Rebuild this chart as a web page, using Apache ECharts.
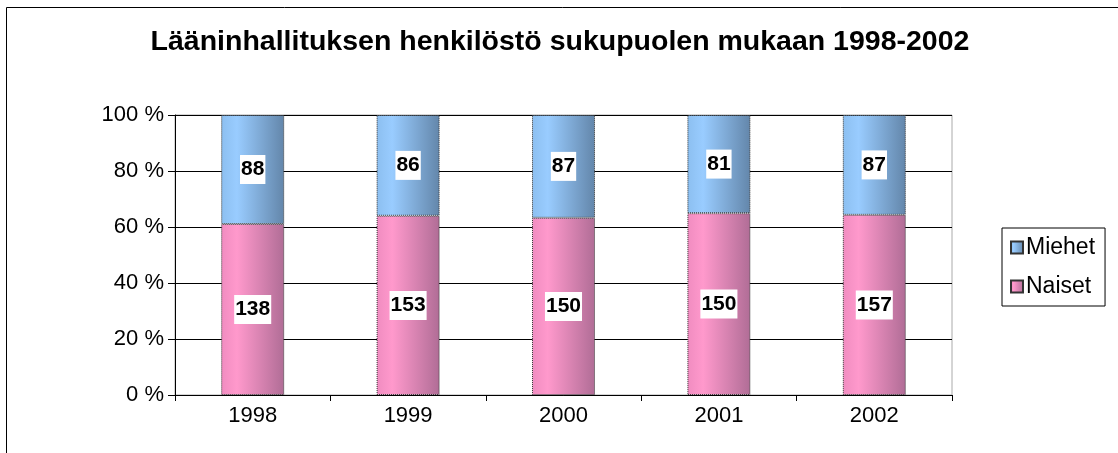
<!DOCTYPE html>
<html>
<head>
<meta charset="utf-8">
<script src="https://cdn.jsdelivr.net/npm/echarts@6/dist/echarts.min.js"></script>
<style>
  body { margin: 0; background: #fff; }
  #main { width: 1118px; height: 453px; }
</style>
</head>
<body>
<div id="main"></div>
<script>
// vuodet ja henkilömäärät
const years = ['1998', '1999', '2000', '2001', '2002'];
const naiset = [138, 153, 150, 150, 157];
const miehet = [88, 86, 87, 81, 87];
const yTicks = [0, 20, 40, 60, 80, 100];

// osuudet prosentteina (100 % pinottu)
const naisetPct = naiset.map((v, i) => v / (v + miehet[i]) * 100);
const miehetPct = miehet.map((v, i) => v / (naiset[i] + v) * 100);

const font = 'Liberation Sans, Arial, sans-serif';

function grad(c1, c2, c3) {
  return new echarts.graphic.LinearGradient(0, 0, 1, 0, [
    { offset: 0, color: c1 },
    { offset: 0.25, color: c2 },
    { offset: 1, color: c3 }
  ]);
}

const labelStyle = {
  show: true,
  position: 'inside',
  fontFamily: font,
  fontSize: 21,
  fontWeight: 'bold',
  color: '#000',
  backgroundColor: '#fff',
  lineHeight: 21,
  padding: [5, 1, 3, 1]
};

const chart = echarts.init(document.getElementById('main'));
chart.setOption({
  animation: false,
  textStyle: { fontFamily: font },
  title: {
    text: 'Lääninhallituksen henkilöstö sukupuolen mukaan 1998-2002',
    left: 555,
    textAlign: 'center',
    top: 23,
    textStyle: { fontFamily: font, fontSize: 28.5, fontWeight: 'bold', color: '#000' }
  },
  graphic: [{
    type: 'rect',
    shape: { x: 6.5, y: 7.5, width: 2000, height: 2000 },
    style: { fill: 'none', stroke: '#000', lineWidth: 1 },
    z: 100
  }],
  legend: {
    orient: 'vertical',
    left: 1002,
    top: 228,
    width: 111,
    data: ['Miehet', 'Naiset'],
    icon: 'rect',
    itemWidth: 12,
    itemHeight: 12,
    itemGap: 16,
    padding: [8, 10, 8, 8],
    borderColor: '#000',
    borderWidth: 1,
    textStyle: { fontFamily: font, fontSize: 23, lineHeight: 22, color: '#000', padding: [0, 0, 0, -2] }
  },
  grid: {
    left: 175,
    right: 1118 - 952,
    top: 115,
    bottom: 453 - 395,
    show: true,
    borderColor: '#aaa',
    borderWidth: 1
  },
  xAxis: {
    type: 'category',
    data: years,
    axisLine: { lineStyle: { color: '#000', width: 1 } },
    axisTick: { show: true, alignWithLabel: false, length: 6, lineStyle: { color: '#000' } },
    axisLabel: { fontFamily: font, fontSize: 22, color: '#000', margin: 10 }
  },
  yAxis: {
    type: 'value',
    min: 0,
    max: 100,
    interval: 20,
    axisLine: { show: true, lineStyle: { color: '#000', width: 1 } },
    axisTick: { show: true, length: 7, lineStyle: { color: '#000' } },
    splitLine: { show: true, lineStyle: { color: '#000', width: 1 } },
    axisLabel: {
      fontFamily: font, fontSize: 22, color: '#000', margin: 11,
      formatter: v => yTicks.includes(v) ? v + ' %' : ''
    }
  },
  series: [
    {
      name: 'Naiset',
      type: 'bar',
      stack: 'yht',
      barWidth: 63,
      data: naisetPct.map((v, i) => ({ value: v, raw: naiset[i] })),
      itemStyle: {
        color: grad('#f08cc0', '#ff99cc', '#b06d96'),
        borderColor: '#333',
        borderWidth: 1,
        borderType: 'dotted'
      },
      label: Object.assign({}, labelStyle, { formatter: p => p.data.raw }),
      z: 3
    },
    {
      name: 'Miehet',
      type: 'bar',
      stack: 'yht',
      barWidth: 63,
      data: miehetPct.map((v, i) => ({ value: v, raw: miehet[i] })),
      itemStyle: {
        color: grad('#8cbff0', '#99ccff', '#6386aa'),
        borderColor: '#333',
        borderWidth: 1,
        borderType: 'dotted'
      },
      label: Object.assign({}, labelStyle, { formatter: p => p.data.raw }),
      z: 3
    }
  ]
});
</script>
</body>
</html>
